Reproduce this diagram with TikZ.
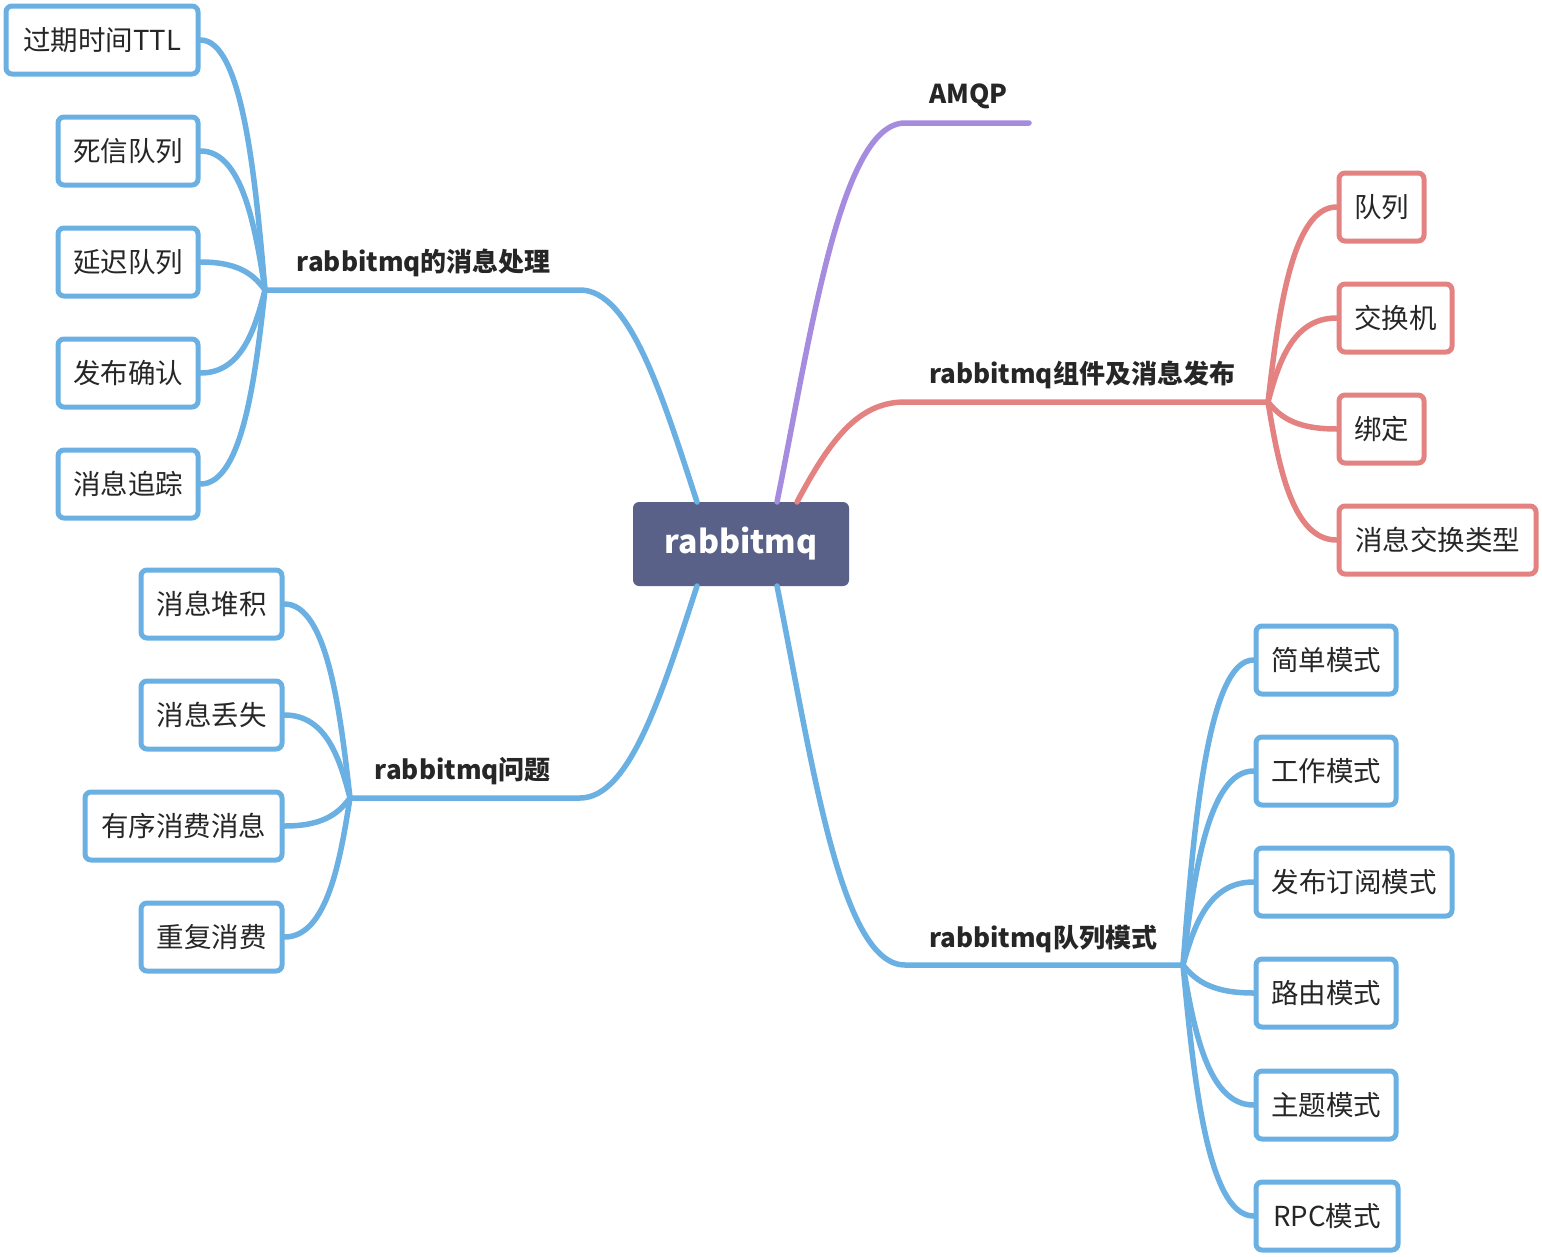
\documentclass[tikz,border=0pt]{standalone}
\usepackage{fontspec}
\setmainfont{Noto Sans CJK SC}
\usetikzlibrary{calc}
\definecolor{lblue}{RGB}{107,176,227}
\definecolor{lred}{RGB}{228,130,130}
\definecolor{lpurple}{RGB}{166,140,222}
\definecolor{cfill}{RGB}{89,97,137}
\definecolor{txt}{RGB}{38,38,38}
\begin{document}
\begin{tikzpicture}[x=1pt,y=-1pt,
  leaf/.style={draw=#1,line width=5pt,rounded corners=6pt,fill=white,
     minimum height=68pt,inner sep=0pt,text=txt,font=\fontsize{27.5}{32}\selectfont},
  branchlbl/.style={text=txt,inner sep=0pt,font=\fontsize{26}{30}\selectfont\bfseries},
  conn/.style={draw=#1,line width=5.5pt,line cap=round},
  kid/.style={to path={let \p1=(\tikztostart), \p2=(\tikztotarget) in
     .. controls ({\x1+0.15*(\x2-\x1)},{\y1+0.45*(\y2-\y1)}) and ({\x1+0.35*(\x2-\x1)},{\y2}) .. (\tikztotarget)}}
]
\useasboundingbox (0,0) rectangle (1542,1256);

% center
\node[fill=cfill,rounded corners=6pt,minimum width=216pt,minimum height=84pt,inner sep=0pt,
  text=white,font=\fontsize{32}{38}\selectfont\bfseries] (c) at (741,544) {rabbitmq};
\coordinate (cnl) at (697,502);
\coordinate (cnr) at (777,502);
\coordinate (cnr2) at (797,502);
\coordinate (csl) at (697,586);
\coordinate (csr) at (777,586);

% junctions
\coordinate (J1) at (265,290);
\coordinate (J2) at (350,798);
\coordinate (J3) at (1268,402);
\coordinate (J4) at (1183,965);
\coordinate (Aend) at (1029,123);

% branch labels
\node[branchlbl,anchor=east] (b1) at (551,263) {rabbitmq的消息处理};
\node[branchlbl,anchor=east] (b2) at (551,771) {rabbitmq问题};
\node[branchlbl,anchor=west] (b0) at (929,96) {AMQP};
\node[branchlbl,anchor=west] (b3) at (929,375) {rabbitmq组件及消息发布};
\node[branchlbl,anchor=west] (b4) at (929,939) {rabbitmq队列模式};

% main branches
\draw[conn=lblue] (cnl) .. controls (662,395) and (630,290) .. (580,290) -- (J1);
\draw[conn=lblue] (csl) .. controls (662,693) and (630,798) .. (580,798) -- (J2);
\draw[conn=lpurple] (cnr) .. controls (810,340) and (840,123) .. (905,123) -- (Aend);
\draw[conn=lred] (cnr2) .. controls (830,440) and (858,402) .. (905,402) -- (J3);
\draw[conn=lblue] (csr) .. controls (812,760) and (840,965) .. (905,965) -- (J4);

% left top leaves
\node[leaf=lblue,minimum width=192pt] (l1) at (102,40) {过期时间TTL};
\node[leaf=lblue,minimum width=140pt] (l2) at (128,151) {死信队列};
\node[leaf=lblue,minimum width=140pt] (l3) at (128,262) {延迟队列};
\node[leaf=lblue,minimum width=140pt] (l4) at (128,373) {发布确认};
\node[leaf=lblue,minimum width=140pt] (l5) at (128,484) {消息追踪};
\foreach \nd in {l1,l2,l3,l4,l5} \draw[conn=lblue] (J1) to[kid] (\nd.east);

% left bottom leaves
\node[leaf=lblue,minimum width=141pt] (m1) at (211.5,604) {消息堆积};
\node[leaf=lblue,minimum width=141pt] (m2) at (211.5,715) {消息丢失};
\node[leaf=lblue,minimum width=197pt] (m3) at (183.5,826) {有序消费消息};
\node[leaf=lblue,minimum width=141pt] (m4) at (211.5,937) {重复消费};
\foreach \nd in {m1,m2,m3,m4} \draw[conn=lblue] (J2) to[kid] (\nd.east);

% right red leaves
\node[leaf=lred,minimum width=85pt] (r1) at (1381.5,207) {队列};
\node[leaf=lred,minimum width=113pt] (r2) at (1395.5,318) {交换机};
\node[leaf=lred,minimum width=85pt] (r3) at (1381.5,429) {绑定};
\node[leaf=lred,minimum width=197pt] (r4) at (1437.5,540) {消息交换类型};
\foreach \nd in {r1,r2,r3,r4} \draw[conn=lred] (J3) to[kid] (\nd.west);

% right blue leaves
\node[leaf=lblue,minimum width=140pt] (q1) at (1326,660) {简单模式};
\node[leaf=lblue,minimum width=140pt] (q2) at (1326,771) {工作模式};
\node[leaf=lblue,minimum width=196pt] (q3) at (1354,882) {发布订阅模式};
\node[leaf=lblue,minimum width=140pt] (q4) at (1326,993) {路由模式};
\node[leaf=lblue,minimum width=140pt] (q5) at (1326,1105) {主题模式};
\node[leaf=lblue,minimum width=142pt] (q6) at (1327,1216) {RPC模式};
\foreach \nd in {q1,q2,q3,q4,q5,q6} \draw[conn=lblue] (J4) to[kid] (\nd.west);
\end{tikzpicture}
\end{document}
